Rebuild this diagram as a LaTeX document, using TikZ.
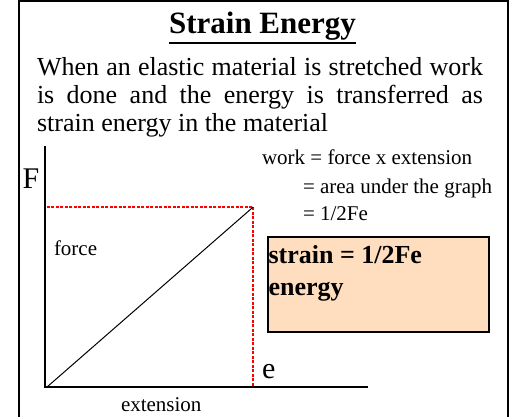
\documentclass[tikz,border=0pt]{standalone}
\usepackage{fontspec}
\setmainfont{Liberation Serif}
\definecolor{peach}{RGB}{255,222,191}
\begin{document}
\begin{tikzpicture}[x=1pt,y=-1pt,
  txt/.style={inner sep=0pt,outer sep=0pt,anchor=base west},
  axis/.style={line width=1.6pt},
  guide/.style={draw=red,line width=2pt,dash pattern=on 3pt off 1.5pt},
  frame/.style={line width=2pt}]
\useasboundingbox (0,0) rectangle (514,416);
% frame
\draw[frame] (19,420) -- (19,0.6) -- (508.2,0.6) -- (508.2,420);
% title
\node[txt,anchor=base] (title) at (262.5,33) {\fontsize{31}{33}\selectfont\bfseries Strain Energy};
\draw[line width=1.7pt] (title.base west |- 0,42.8) -- (title.base east |- 0,42.8);
% paragraph
\node[txt] (p1) at (37,75) {\fontsize{26}{28}\selectfont\makebox[446pt][s]{When an elastic material is stretched work}};
\node[txt] (p2) at (37,103) {\fontsize{26}{28}\selectfont\makebox[446pt][s]{is done and the energy is transferred as}};
\node[txt] (p3) at (37,131) {\fontsize{26}{28}\selectfont strain energy in the material};
% graph
\coordinate (O) at (45,387);
\coordinate (ytop) at (45,146);
\coordinate (xend) at (368,387);
\coordinate (P) at (253.2,207);
\coordinate (Py) at (46.5,207);
\coordinate (Px) at (253.2,387);
\coordinate (O2) at (47,387);
\draw[guide] (Py) -- (P) -- (Px);
\draw[line width=1pt] (O2) -- (P);
\draw[axis] (ytop) -- (O) -- (xend);
\node[txt] (F) at (22.5,188) {\fontsize{30}{32}\selectfont F};
\node[txt] (e) at (262,378) {\fontsize{30}{32}\selectfont e};
\node[txt] (force) at (54,255) {\fontsize{21}{23}\selectfont force};
\node[txt] (ext) at (121,411.5) {\fontsize{21}{23}\selectfont extension};
% work text
\node[txt] (w1) at (262,164) {\fontsize{21}{23}\selectfont work = force x extension};
\node[txt] (w2) at (303,193) {\fontsize{21}{23}\selectfont = area under the graph};
\node[txt] (w3) at (303,220) {\fontsize{21}{23}\selectfont = 1/2Fe};
% box
\draw[line width=2.2pt,fill=peach] (267.7,237.3) rectangle (489.3,332.3);
\node[txt] (b1) at (268.5,263.3) {\fontsize{26}{28}\selectfont\bfseries strain = 1/2Fe};
\node[txt] (b2) at (268.5,295) {\fontsize{26}{28}\selectfont\bfseries energy};
\end{tikzpicture}
\end{document}
